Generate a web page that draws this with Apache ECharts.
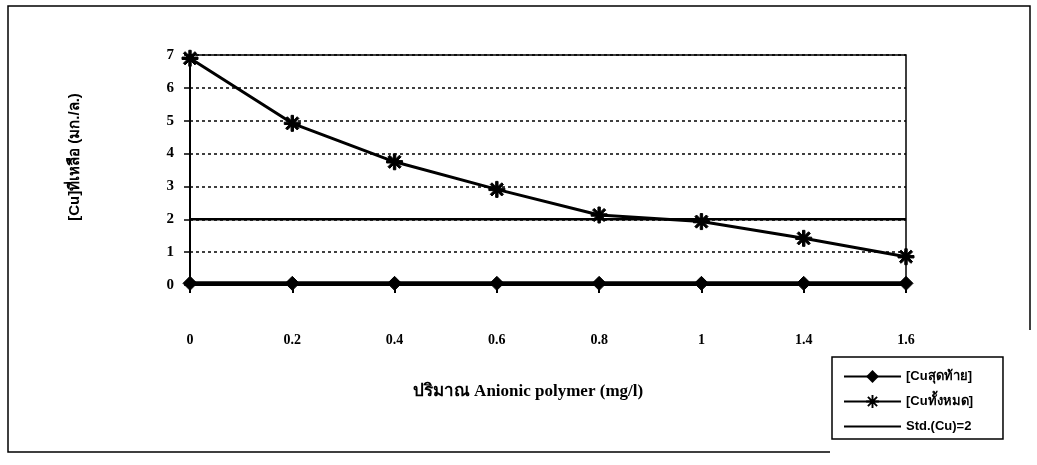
<!DOCTYPE html>
<html>
<head>
<meta charset="utf-8">
<script src="https://cdn.jsdelivr.net/npm/echarts@6/dist/echarts.min.js"></script>
<style>html,body{margin:0;padding:0;background:#fff}#c{width:1037px;height:465px}</style>
</head>
<body>
<div id="c"></div>
<script>
const categories = ['0', '0.2', '0.4', '0.6', '0.8', '1', '1.4', '1.6'];
const cuFinal = [0.05, 0.05, 0.05, 0.05, 0.05, 0.05, 0.05, 0.05];
const cuTotal = [6.9, 4.92, 3.75, 2.91, 2.13, 1.93, 1.42, 0.86];
const stdCu = [2, 2, 2, 2, 2, 2, 2, 2];
const yTicks = [0, 1, 2, 3, 4, 5, 6, 7];
const seriesNames = ['[Cuสุดท้าย]', '[Cuทั้งหมด]', 'Std.(Cu)=2'];
const xName = 'ปริมาณ Anionic polymer (mg/l)';
const yName = '[Cu]ที่เหลือ (มก./ล.)';

const serif = '"Liberation Serif", "Times New Roman", serif';
const sans = '"Liberation Sans", "DejaVu Sans", "Noto Sans", sans-serif';
const star = 'path://M-1.2,-8 L1.2,-8 L1.2,8 L-1.2,8 Z M-6.6,-4.9 L-4.9,-6.6 L6.6,4.9 L4.9,6.6 Z M4.9,-6.6 L6.6,-4.9 L-4.9,6.6 L-6.6,4.9 Z M-8,-1.2 L8,-1.2 L8,1.2 L-8,1.2 Z';

const chart = echarts.init(document.getElementById('c'), null, {renderer: 'canvas'});
chart.setOption({
  animation: false,
  backgroundColor: '#fff',
  title: {
    text: xName, left: 523, top: 378, textAlign: 'center',
    textStyle: {fontFamily: serif, fontSize: 17, fontWeight: 'bold', color: '#000'}
  },
  graphic: [
    {type: 'polyline', z: -1, shape: {points: [[1030, 330], [1030, 6], [8, 6], [8, 452], [830, 452]]},
     style: {fill: 'none', stroke: '#000', lineWidth: 1.5}}
  ],
  grid: {left: 190, right: 131, top: 55, bottom: 180, show: true, borderColor: '#000', borderWidth: 1.5},
  legend: {
    orient: 'vertical', left: 832, top: 357,
    data: [
      {name: seriesNames[0]},
      {name: seriesNames[1]},
      {name: seriesNames[2], itemStyle: {opacity: 0}}
    ],
    itemWidth: 57, itemHeight: 16, itemGap: 12,
    padding: [13, 30, 6, 11],
    borderColor: '#000', borderWidth: 1.5,
    textStyle: {fontFamily: sans, fontSize: 13, fontWeight: 'bold', color: '#000'}
  },
  xAxis: {
    type: 'category', data: categories, boundaryGap: false,
    axisLine: {lineStyle: {color: '#000', width: 2}},
    axisTick: {show: true, length: 8, lineStyle: {color: '#000', width: 2}},
    axisLabel: {margin: 48, fontFamily: serif, fontSize: 14, fontWeight: 'bold', color: '#000'},
    splitLine: {show: false}
  },
  yAxis: {
    type: 'value', min: 0, max: 7, interval: 1,
    name: yName, nameLocation: 'middle', nameGap: 108,
    nameTextStyle: {fontFamily: sans, fontSize: 15, fontWeight: 'bold', color: '#000', padding: [0, 0, 0, 26]},
    axisLine: {show: true, lineStyle: {color: '#000', width: 2}},
    axisTick: {show: true, length: 6, lineStyle: {color: '#000', width: 1.5}},
    axisLabel: {margin: 16, fontFamily: serif, fontSize: 15, fontWeight: 'bold', color: '#000',
      formatter: v => yTicks.includes(v) ? String(v) : ''},
    splitLine: {show: true, lineStyle: {color: '#000', width: 1.5, type: [3, 3]}}
  },
  series: [
    {
      name: seriesNames[0], type: 'line', data: cuFinal, z: 5,
      symbol: 'diamond', symbolSize: 14,
      lineStyle: {color: '#000', width: 4},
      itemStyle: {color: '#000', borderColor: '#000'}
    },
    {
      name: seriesNames[1], type: 'line', data: cuTotal, z: 4,
      symbol: star, symbolSize: 16,
      lineStyle: {color: '#000', width: 3},
      itemStyle: {color: '#000', borderColor: '#000'}
    },
    {
      name: seriesNames[2], type: 'line', data: stdCu, z: 3,
      symbol: 'none', showSymbol: false,
      lineStyle: {color: '#000', width: 2.5},
      itemStyle: {color: '#000'}
    }
  ]
});
</script>
</body>
</html>
